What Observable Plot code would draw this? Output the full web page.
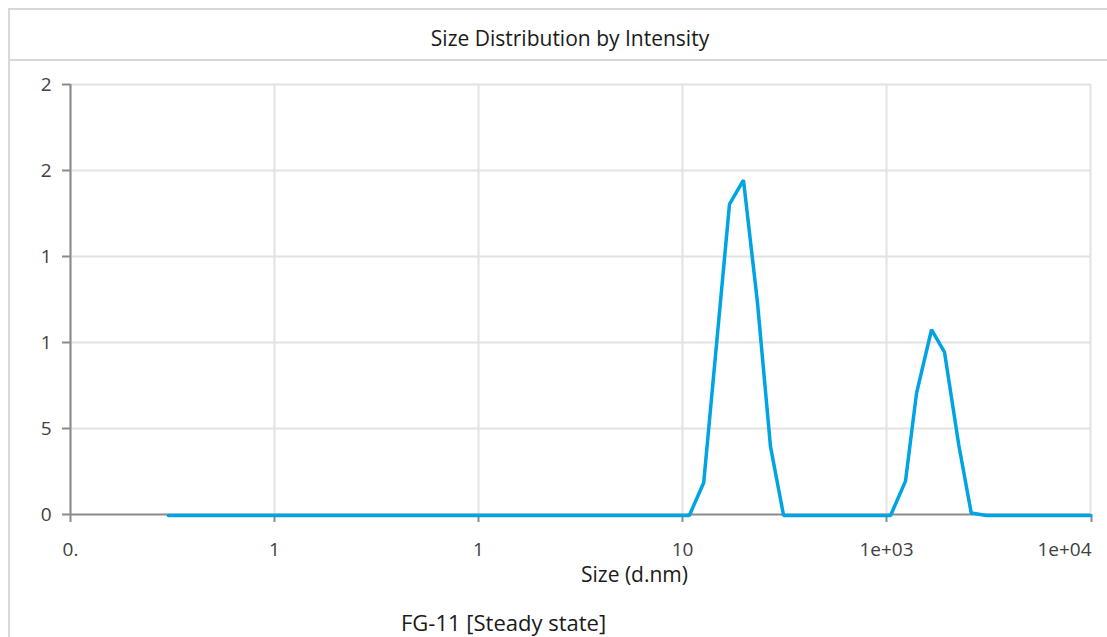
<!DOCTYPE html>
<html>
<head>
<meta charset="utf-8">
<script src="https://cdn.jsdelivr.net/npm/d3@7"></script>
<script src="https://cdn.jsdelivr.net/npm/@observablehq/plot@0.6"></script>
<style>
  body { margin: 0; background: #fff; font-family: "Open Sans", sans-serif; }
  #wrap { position: relative; width: 1107px; height: 637px; overflow: hidden; }
  #box { position: absolute; left: 8px; top: 8px; width: 1200px; height: 700px;
         border-left: 2px solid #d8d8d8; border-top: 2px solid #d8d8d8; }
  #titlebar { position: absolute; left: 10px; top: 10px; width: 1200px; height: 49px;
              border-bottom: 2px solid #d8d8d8; }
  #title { position: absolute; left: 0; top: 24px; width: 1140px; text-align: center;
           font-size: 21px; color: #1a1a1a; line-height: 28px; }
  #chart { position: absolute; left: 0; top: 62px; }
  #caption { position: absolute; left: 401px; top: 607px; font-size: 22px; color: #1a1a1a; line-height: 30px; }
</style>
</head>
<body>
<div id="wrap">
  <div id="box"></div>
  <div id="titlebar"></div>
  <div id="title">Size Distribution by Intensity</div>
  <div id="chart"></div>
  <div id="caption">FG-11 [Steady state]</div>
</div>
<script>
// Size (d.nm) and intensity (%)
const sizes = [0.302, 108, 127, 170, 199, 233, 270, 313, 1047, 1239, 1403, 1662, 1924, 2261, 2602, 3090, 10000];
const intensity = [0, 0, 1.9, 18.1, 19.5, 12.4, 4.0, 0, 0, 2.0, 7.1, 10.8, 9.5, 4.1, 0.15, 0, 0];

const xTicks = [0.1, 1, 10, 100, 1000, 10000];
const xTickLabels = ["0.", "1", "1", "10", "1e+03", "1e+04"];
const yTicks = [0, 5, 10, 15, 20, 25];
const yTickLabels = ["0", "5", "1", "1", "2", "2"];

const data = sizes.map((s, i) => ({size: s, value: intensity[i]}));
const xLabelOf = d => xTickLabels[Math.round(Math.log10(d)) + 1];
const yLabelOf = d => yTickLabels[Math.round(d / 5)];

const gridColor = "#e2e2e2";
const axisColor = "#8a8a8a";
const textColor = "#404040";

const chart = Plot.plot({
  width: 1107,
  height: 540,
  marginLeft: 70,
  marginRight: 17,
  marginTop: 22,
  marginBottom: 88,
  style: {fontFamily: "'Open Sans', sans-serif", fontSize: "19px", color: textColor, background: "transparent", overflow: "visible"},
  x: {type: "log", domain: [0.1, 10000], ticks: xTicks, label: null},
  y: {domain: [0, 25], ticks: yTicks, label: null},
  marks: [
    Plot.gridX(xTicks, {stroke: gridColor, strokeOpacity: 1, strokeWidth: 2}),
    Plot.gridY(yTicks.filter(d => d > 0), {stroke: gridColor, strokeOpacity: 1, strokeWidth: 2}),
    Plot.axisX(xTicks.slice(0, -1), {tickFormat: xLabelOf, tickSize: 8, tickPadding: 20,
                stroke: axisColor, strokeWidth: 2, fill: textColor, fontSize: 19, label: null}),
    Plot.axisX(xTicks.slice(-1), {tickFormat: xLabelOf, tickSize: 8, tickPadding: 20, textAnchor: "end", dx: 1,
                stroke: axisColor, strokeWidth: 2, fill: textColor, fontSize: 19, label: null}),
    Plot.axisY(yTicks, {tickFormat: yLabelOf, tickSize: 8, tickPadding: 11,
                stroke: axisColor, strokeWidth: 2, fill: textColor, fontSize: 19, label: null}),
    Plot.ruleY([0], {stroke: axisColor, strokeWidth: 2}),
    Plot.ruleX([0.1], {y1: 0, y2: 25, stroke: axisColor, strokeWidth: 2}),
    Plot.line(data, {x: "size", y: "value", stroke: "#00a3e4", strokeWidth: 3.5, strokeLinejoin: "miter", dy: 1}),
    Plot.text(["Size (d.nm)"], {frameAnchor: "bottom", dx: 54, dy: 67, fill: "#1a1a1a", fontSize: 21})
  ]
});
document.getElementById("chart").appendChild(chart);
</script>
</body>
</html>
